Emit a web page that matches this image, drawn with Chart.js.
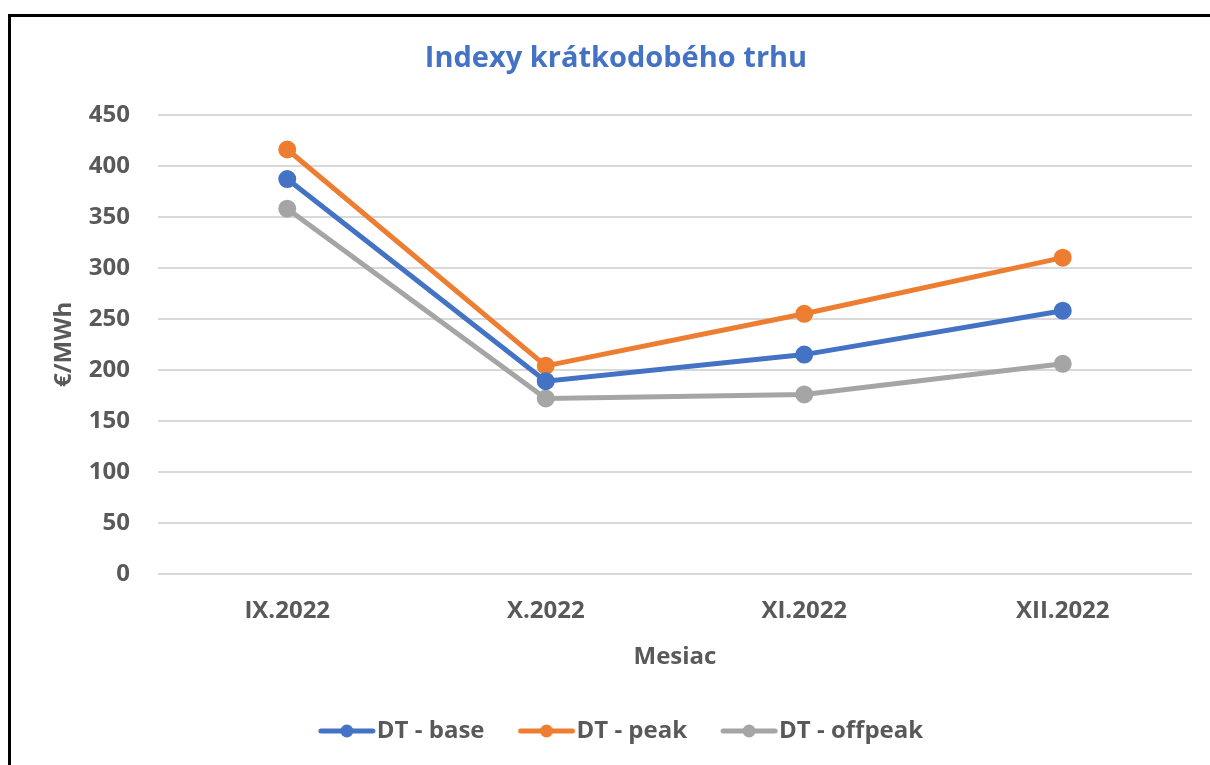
<!DOCTYPE html>
<html>
<head>
<meta charset="utf-8">
<script src="https://cdn.jsdelivr.net/npm/chart.js@4.4.1/dist/chart.umd.min.js"></script>
<style>
html,body{margin:0;padding:0;background:#fff;overflow:hidden;}
#wrap{position:absolute;left:0;top:0;width:1210px;height:765px;}
#frame{position:absolute;left:8px;top:14px;width:1300px;height:900px;border:3px solid #000;box-sizing:border-box;pointer-events:none;}
</style>
</head>
<body>
<div id="wrap"><canvas id="c" width="1210" height="765"></canvas></div>
<div id="frame"></div>
<script>
const categories = ['IX.2022', 'X.2022', 'XI.2022', 'XII.2022'];
const base = [387, 189, 215, 258];
const peak = [416, 204, 255, 310];
const offpeak = [358, 172, 176, 206];
const seriesNames = ['DT - base', 'DT - peak', 'DT - offpeak'];
const colors = ['#4472C4', '#ED7D31', '#A5A5A5'];
const yTicks = [0, 50, 100, 150, 200, 250, 300, 350, 400, 450];

function legendIcon(color){
  const cv = document.createElement('canvas');
  cv.width = 80; cv.height = 16;
  const g = cv.getContext('2d');
  g.strokeStyle = color; g.lineWidth = 5; g.lineCap = 'round';
  g.beginPath(); g.moveTo(24,8); g.lineTo(76,8); g.stroke();
  g.fillStyle = color; g.beginPath(); g.arc(50,8,6.5,0,Math.PI*2); g.fill();
  return cv;
}

const font = "'Open Sans', 'Noto Sans', sans-serif";
const dataSets = [base, peak, offpeak].map((d,i)=>({
  label: seriesNames[i], data: d, borderColor: colors[i], backgroundColor: colors[i],
  borderWidth: 5, pointRadius: 6.5, pointHoverRadius: 6.5, tension: 0, borderCapStyle:'round'
}));

new Chart(document.getElementById('c'), {
  type: 'line',
  data: { labels: categories, datasets: dataSets },
  options: {
    responsive: false, animation: false,
    layout: { padding: { left: 40, right: 18, top: 20, bottom: 12 } },
    plugins: {
      title: { display: true, text: 'Indexy krátkodobého trhu', color: '#4472C4',
        font: { family: font, size: 29, weight: 'bold' }, padding: { top: 21, bottom: 39 } },
      legend: { position: 'bottom',
        labels: { color: '#595959', font: { family: font, size: 24, weight: 'bold' }, usePointStyle: true, pointStyleWidth: 56, padding: 24,
          generateLabels: (chart) => chart.data.datasets.map((ds,i)=>({
            text: ds.label, fillStyle: ds.borderColor, strokeStyle: ds.borderColor, lineWidth: 0,
            pointStyle: legendIcon(ds.borderColor), datasetIndex: i, hidden: false, fontColor: '#595959'
          })) } },
      tooltip: { enabled: false }
    },
    scales: {
      x: { offset: true, grid: { display: false, drawTicks: false }, border: { display: false },
        afterFit: (s) => { s.height = 121; },
        ticks: { color: '#595959', font: { family: font, size: 24, weight: 'bold' }, padding: 23 },
        title: { display: true, text: 'Mesiac', color: '#595959', font: { family: font, size: 24, weight: 'bold' }, padding: { top: 0, bottom: 23 } } },
      y: { min: 0, max: 450, afterBuildTicks: (s)=>{ s.ticks = yTicks.map(v=>({value:v})); },
        afterFit: (s) => { s.width = 118; },
        grid: { color: '#D9D9D9', lineWidth: 2, drawTicks: false }, border: { display: false },
        ticks: { color: '#595959', font: { family: font, size: 24, weight: 'bold' }, padding: 28 },
        title: { display: true, text: '€/MWh', color: '#595959', font: { family: font, size: 24, weight: 'bold' }, padding: { top: 10, bottom: 0 } } }
    }
  }
});
</script>
</body>
</html>
